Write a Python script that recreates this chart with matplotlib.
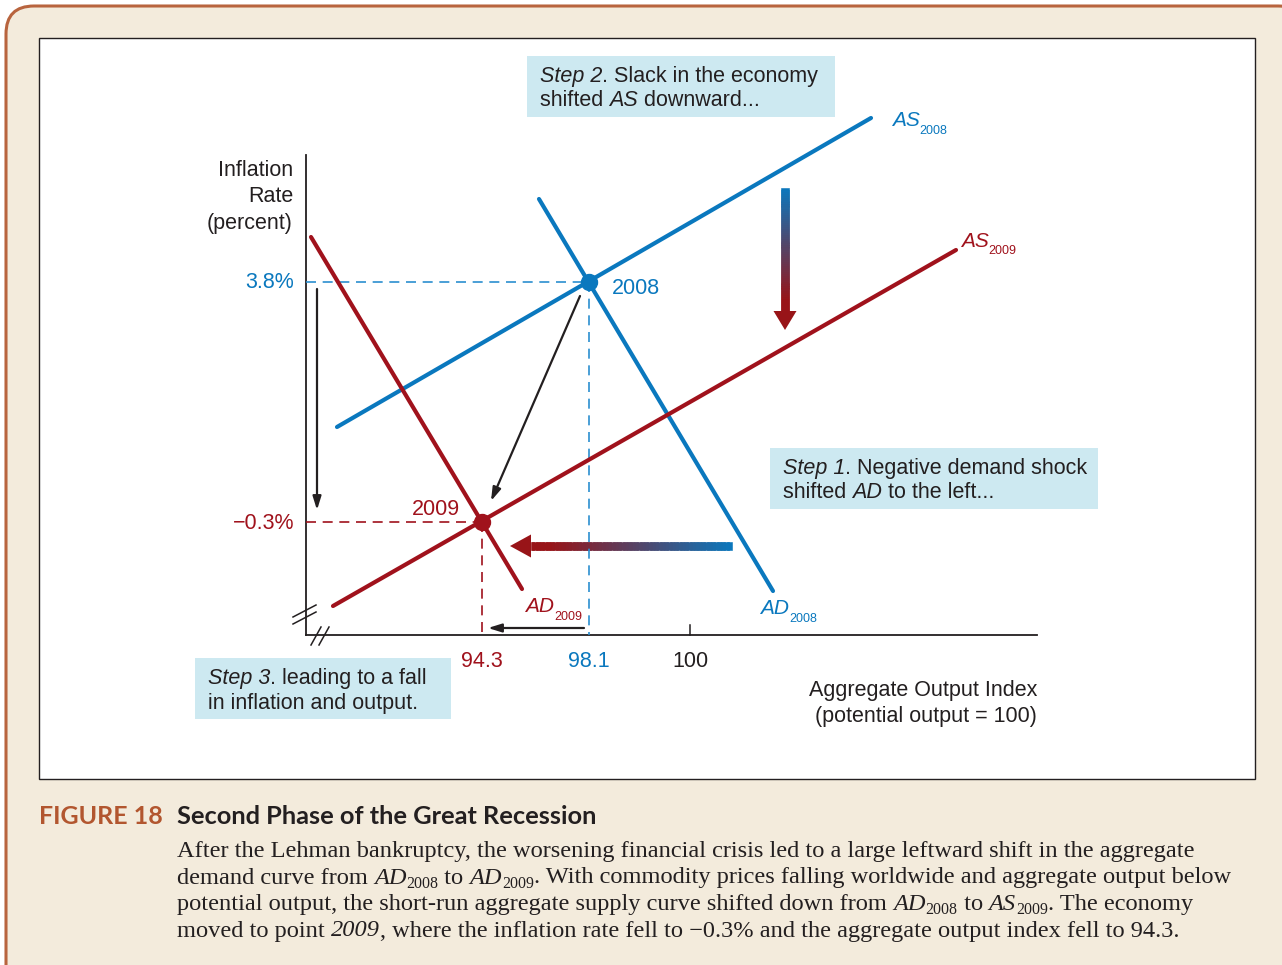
import numpy as np
import matplotlib
matplotlib.use('Agg')
import matplotlib.pyplot as plt
from matplotlib.patches import Rectangle, FancyBboxPatch, Polygon
from matplotlib.collections import LineCollection

plt.rcParams['font.family'] = ['Liberation Sans', 'DejaVu Sans']

# ---- diagram data (schematic coordinates, y grows downward) ----
x0, y0 = 306, 635          # origin of the diagram
x_end, y_top = 1037, 155

# curves: (x1, y1, x2, y2)
as2008 = [337, 427, 871, 118]
ad2008 = [539, 199, 773, 591]
as2009 = [333, 606, 956, 250]
ad2009 = [311, 237, 522, 589]

# equilibrium points
eq_x = [589, 482]
eq_y = [282, 522]
eq_names = ['2008', '2009']

# axis values
infl_labels = ['3.8%', '\u22120.3%']
out_labels = ['94.3', '98.1', '100']
out_pos = [482, 589, 690]

blue = '#0A78BE'
blue_d = '#2B8FD0'
red = '#A0121C'
dark = '#231F20'
tan = '#F3EBDC'
box_col = '#CDE9F1'

fig = plt.figure(figsize=(12.82, 9.65), dpi=100)
ax = fig.add_axes([0, 0, 1, 1])
ax.set_xlim(0, 1282)
ax.set_ylim(965, 0)
ax.axis('off')
rend = fig.canvas.get_renderer()


def adv(s, **kw):
    # advance width of s in pixels (spaces included)
    t = ax.text(0, 0, 'x' + s + 'x', **kw)
    w1 = t.get_window_extent(rend).width
    t.set_text('xx')
    w2 = t.get_window_extent(rend).width
    t.remove()
    return w1 - w2


def rich(x, y, pieces, color=dark, size=15.5, family='Liberation Sans', sub_dy=0.5, sub_sc=0.6):
    # pieces: (text, kind) kind in 'n', 'i', 'sub'
    for s, kind in pieces:
        kw = dict(fontsize=size, family=family, color=color)
        dy = 0
        if kind == 'i':
            kw['style'] = 'italic'
        elif kind == 'sub':
            kw['fontsize'] = size * sub_sc
            dy = size * sub_dy
        ax.text(x, y + dy, s, ha='left', va='baseline', **kw)
        x += adv(s, **kw)


# frame
ax.add_patch(FancyBboxPatch((6, 6), 1300, 1000, boxstyle='round,pad=0,rounding_size=28',
                            facecolor=tan, edgecolor='#B8643E', lw=2.2))
ax.add_patch(Rectangle((39, 38), 1216, 741, facecolor='white', edgecolor=dark, lw=1.0))

# axes
ax.plot([x0, x0], [y_top, y0], color=dark, lw=1.3)
ax.plot([x0, x_end], [y0, y0], color=dark, lw=1.3)
ax.plot([690, 690], [625, y0], color=dark, lw=1.1)
# break marks
for dy in [0, 7]:
    ax.plot([293, 316], [617 + dy, 605 + dy], color=dark, lw=1.1)
for dx in [0, 8]:
    ax.plot([311 + dx, 321 + dx], [645, 627], color=dark, lw=1.1)

# dashed guides
ax.plot([x0, eq_x[0]], [eq_y[0], eq_y[0]], color=blue_d, lw=1.2, dashes=(6, 4))
ax.plot([eq_x[0], eq_x[0]], [eq_y[0], y0], color=blue_d, lw=1.2, dashes=(6, 4))
ax.plot([x0, eq_x[1]], [eq_y[1], eq_y[1]], color=red, lw=1.2, dashes=(6, 4))
ax.plot([eq_x[1], eq_x[1]], [eq_y[1], y0], color=red, lw=1.2, dashes=(6, 4))

# curves
for c, col in [(as2008, blue), (ad2008, blue), (as2009, red), (ad2009, red)]:
    ax.plot([c[0], c[2]], [c[1], c[3]], color=col, lw=3.0, solid_capstyle='round')

ax.plot(eq_x[0], eq_y[0], 'o', color=blue, ms=11.5)
ax.plot(eq_x[1], eq_y[1], 'o', color=red, ms=11.5)

fs = 15.5
ax.text(612, 294, eq_names[0], color=blue, fontsize=fs, ha='left', va='baseline')
ax.text(460, 515, eq_names[1], color=red, fontsize=fs, ha='right', va='baseline')
ax.text(294, 288, infl_labels[0], color=blue, fontsize=fs, ha='right', va='baseline')
ax.text(294, 529, infl_labels[1], color=red, fontsize=fs, ha='right', va='baseline')
for lab, xp, col in zip(out_labels, out_pos, [red, blue, dark]):
    ax.text(xp, 667, lab, color=col, fontsize=fs, ha='center', va='baseline')

for i, s in enumerate(['Inflation', 'Rate', '(percent)']):
    ax.text(293, 176 + 26.5 * i, s, color=dark, fontsize=fs, ha='right', va='baseline')
ax.text(1037, 696, 'Aggregate Output Index', color=dark, fontsize=fs, ha='right', va='baseline')
ax.text(1037, 722, '(potential output = 100)', color=dark, fontsize=fs, ha='right', va='baseline')

# curve labels
rich(892, 126, [('AS', 'i'), ('2008', 'sub')], color=blue, size=15)
rich(961, 247, [('AS', 'i'), ('2009', 'sub')], color=red, size=15)
rich(760, 614, [('AD', 'i'), ('2008', 'sub')], color=blue, size=15)
rich(525, 612, [('AD', 'i'), ('2009', 'sub')], color=red, size=15)

# step boxes
boxes = [
    (527, 56, 308, 61, [[('Step 2', 'i'), ('. Slack in the economy', 'n')],
                        [('shifted ', 'n'), ('AS', 'i'), (' downward...', 'n')]]),
    (770, 448, 328, 61, [[('Step 1', 'i'), ('. Negative demand shock', 'n')],
                         [('shifted ', 'n'), ('AD', 'i'), (' to the left...', 'n')]]),
    (195, 658, 256, 61, [[('Step 3', 'i'), ('. leading to a fall', 'n')],
                         [('in inflation and output.', 'n')]]),
]
for bx, by, bw, bh, lines in boxes:
    ax.add_patch(Rectangle((bx, by), bw, bh, facecolor=box_col, edgecolor='none'))
    for i, pcs in enumerate(lines):
        rich(bx + 13, by + 26 + 24.5 * i, pcs, size=fs)

# thin black arrows
arr = dict(arrowstyle='-|>,head_length=0.8,head_width=0.25', color=dark, lw=1.6,
           shrinkA=0, shrinkB=0)
ax.annotate('', xy=(317, 510), xytext=(317, 289), arrowprops=arr)
ax.annotate('', xy=(491, 501), xytext=(580, 296), arrowprops=arr)
ax.annotate('', xy=(488, 628), xytext=(584, 628), arrowprops=arr)


def grad_arrow(xs, ys, xe, ye, width, head_w, head_l):
    # shaft built from small rectangles going from blue to red, head in red
    d = np.array([xe - xs, ye - ys], float)
    L = np.hypot(*d)
    u = d / L
    n = np.array([-u[1], u[0]])
    start = np.array([xs, ys], float)
    base = np.array([xe, ye]) - u * head_l
    c1 = np.array(matplotlib.colors.to_rgb(blue))
    c2 = np.array(matplotlib.colors.to_rgb('#981418'))
    N = 60
    t = np.linspace(0, 1, N + 1)
    for k in range(N):
        a = start + (base - start) * t[k]
        b = start + (base - start) * min(1, t[k + 1] + 0.01)
        col = c1 + (c2 - c1) * min(1, (t[k] + t[k + 1]) / 2 * 1.1)
        quad = [a + n * width / 2, b + n * width / 2, b - n * width / 2, a - n * width / 2]
        ax.add_patch(Polygon(quad, closed=True, facecolor=col, edgecolor=col, lw=0.4))
    head = [base + n * head_w / 2, np.array([xe, ye]), base - n * head_w / 2]
    ax.add_patch(Polygon(head, closed=True, facecolor='#981418', edgecolor='none'))


grad_arrow(785, 188, 785, 330, 8.5, 23, 19)
grad_arrow(732, 546, 510, 546, 8.5, 23, 21)

# caption
ax.text(39, 824, 'FIGURE 18', color='#B2562F', fontsize=18, fontweight='bold',
        family='Lato', ha='left', va='baseline')
ax.text(177, 824, 'Second Phase of the Great Recession', color=dark, fontsize=18.3,
        fontweight='bold', family='Lato', ha='left', va='baseline')
cap = [
    [('After the Lehman bankruptcy, the worsening financial crisis led to a large leftward shift in the aggregate', 'n')],
    [('demand curve from ', 'n'), ('AD', 'i'), ('2008', 'sub'), (' to ', 'n'), ('AD', 'i'), ('2009', 'sub'),
     ('. With commodity prices falling worldwide and aggregate output below', 'n')],
    [('potential output, the short-run aggregate supply curve shifted down from ', 'n'), ('AD', 'i'),
     ('2008', 'sub'), (' to ', 'n'), ('AS', 'i'), ('2009', 'sub'), ('. The economy', 'n')],
    [('moved to point ', 'n'), ('2009', 'i'),
     (', where the inflation rate fell to \u22120.3% and the aggregate output index fell to 94.3.', 'n')],
]
for i, pcs in enumerate(cap):
    rich(177, 857 + 26.5 * i, pcs, size=17.6, family='Liberation Serif', sub_dy=0.25, sub_sc=0.65)

plt.savefig('out.png', dpi=100)
